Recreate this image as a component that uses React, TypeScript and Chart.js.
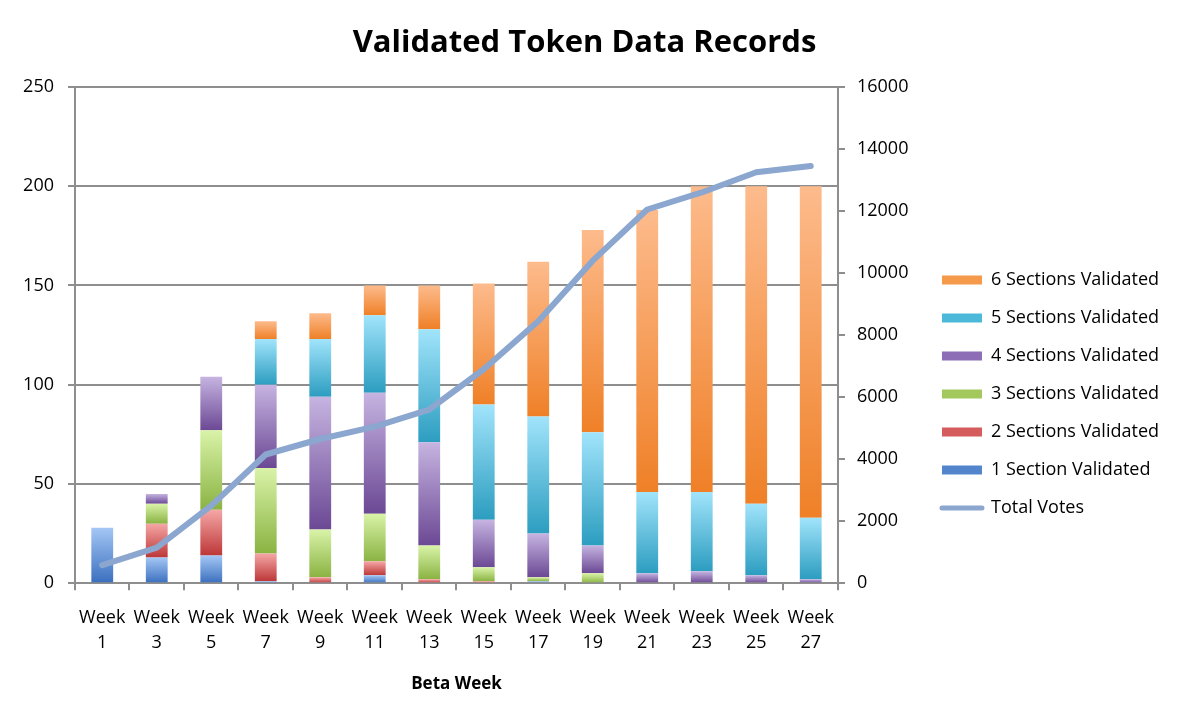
import React, { useEffect, useRef } from 'react';
import { Chart, registerables } from 'chart.js';

Chart.register(...registerables);

const WEEKS = ['1', '3', '5', '7', '9', '11', '13', '15', '17', '19', '21', '23', '25', '27'];

const ONE_SECTION = [28, 13, 14, 1, 0, 4, 0, 0, 1, 0, 0, 0, 0, 0];
const TWO_SECTIONS = [0, 17, 23, 14, 3, 7, 2, 1, 0, 0, 0, 0, 0, 0];
const THREE_SECTIONS = [0, 10, 40, 43, 24, 24, 17, 7, 2, 5, 0, 0, 0, 0];
const FOUR_SECTIONS = [0, 5, 27, 42, 67, 61, 52, 24, 22, 14, 5, 6, 4, 2];
const FIVE_SECTIONS = [0, 0, 0, 23, 29, 39, 57, 58, 59, 57, 41, 40, 36, 31];
const SIX_SECTIONS = [0, 0, 0, 9, 13, 15, 22, 61, 78, 102, 142, 154, 160, 167];

const TOTAL_VOTES = [580, 1150, 2500, 4150, 4650, 5050, 5600, 6900, 8450, 10400, 12050, 12600, 13250, 13450];

const SERIES_LABELS = [
  '1 Section Validated',
  '2 Sections Validated',
  '3 Sections Validated',
  '4 Sections Validated',
  '5 Sections Validated',
  '6 Sections Validated',
];
const SERIES = [ONE_SECTION, TWO_SECTIONS, THREE_SECTIONS, FOUR_SECTIONS, FIVE_SECTIONS, SIX_SECTIONS];

const LEFT_TICKS_MAX = 250;
const LEFT_STEP = 50;
const RIGHT_TICKS_MAX = 16000;
const RIGHT_STEP = 2000;

const PALETTE = [
  { top: '#a4c7f5', bottom: '#3a6fbe', solid: '#5285cc' },
  { top: '#f5a7a6', bottom: '#bd3738', solid: '#d45c5c' },
  { top: '#d9f3a8', bottom: '#8ab342', solid: '#a2c85e' },
  { top: '#c6b4e1', bottom: '#6b4894', solid: '#8d6db5' },
  { top: '#a1e4fb', bottom: '#2c9dc0', solid: '#4db9da' },
  { top: '#fdbb8c', bottom: '#ef8027', solid: '#f5994b' },
];
const LINE_COLOR = '#8ba6cf';
const GRID = '#8e8e8e';
const FONT = "'Open Sans', sans-serif";

function barFill(i: number) {
  return (ctx: any) => {
    const chart = ctx.chart;
    const p = PALETTE[i];
    const y = chart.scales && chart.scales.y;
    if (ctx.type !== 'data' || !y || !chart.chartArea) return p.solid;
    const idx = ctx.dataIndex;
    let base = 0;
    for (let k = 0; k < i; k++) base += SERIES[k][idx];
    const top = base + SERIES[i][idx];
    const y0 = y.getPixelForValue(top);
    const y1 = y.getPixelForValue(base);
    if (!(y1 - y0 > 0.5) || !isFinite(y0) || !isFinite(y1)) return p.solid;
    const g = chart.ctx.createLinearGradient(0, y0, 0, y1);
    g.addColorStop(0, p.top);
    g.addColorStop(1, p.bottom);
    return g;
  };
}

export default function App() {
  const ref = useRef<HTMLCanvasElement>(null);
  useEffect(() => {
    if (!ref.current) return;
    Chart.defaults.color = '#000';
    Chart.defaults.font.family = FONT;

    const barSets = SERIES.map((values, i) => ({
      type: 'bar' as const,
      label: SERIES_LABELS[i],
      data: values,
      backgroundColor: barFill(i),
      borderWidth: 0,
      yAxisID: 'y',
      order: 1,
      categoryPercentage: 1,
      barPercentage: 0.4,
    }));

    const chart = new Chart(ref.current, {
      type: 'bar',
      data: {
        labels: WEEKS.map((w) => ['Week', w]),
        datasets: [
          ...barSets,
          {
            type: 'line' as const,
            label: 'Total Votes',
            data: TOTAL_VOTES,
            borderColor: LINE_COLOR,
            backgroundColor: LINE_COLOR,
            borderWidth: 6,
            pointRadius: 0,
            tension: 0,
            borderCapStyle: 'round',
            borderJoinStyle: 'round',
            yAxisID: 'y1',
            order: 0,
          } as any,
        ],
      },
      options: {
        responsive: false,
        animation: false,
        layout: { padding: { left: 0, right: 10, top: 0, bottom: 26 } },
        plugins: {
          title: {
            display: true,
            text: 'Validated Token Data Records',
            color: '#000',
            font: { family: FONT, size: 31, weight: 'bold', lineHeight: 1.2 },
            padding: { top: 25, bottom: 24.8 },
          },
          legend: {
            position: 'right',
            align: 'start',
            maxWidth: 260,
            title: {
              display: true,
              text: ' ',
              font: { size: 10, lineHeight: 1 },
              padding: { top: 241, bottom: 0 },
            },
            labels: {
              usePointStyle: true,
              pointStyleWidth: 40,
              boxWidth: 40,
              boxHeight: 9,
              padding: 20,
              color: '#000',
              font: { family: FONT, size: 18 },
              generateLabels: () => {
                const items: any[] = [];
                for (let i = 5; i >= 0; i--) {
                  items.push({
                    text: SERIES_LABELS[i],
                    fillStyle: PALETTE[i].solid,
                    strokeStyle: PALETTE[i].solid,
                    lineWidth: 0,
                    pointStyle: 'rect',
                    datasetIndex: i,
                    hidden: false,
                    fontColor: '#000',
                  });
                }
                items.push({
                  text: 'Total Votes',
                  fillStyle: LINE_COLOR,
                  strokeStyle: LINE_COLOR,
                  lineWidth: 5,
                  lineCap: 'round',
                  pointStyle: 'line',
                  datasetIndex: 6,
                  hidden: false,
                  fontColor: '#000',
                });
                return items;
              },
            },
          },
          tooltip: { enabled: false },
        },
        scales: {
          x: {
            stacked: true,
            offset: true,
            grid: {
              display: true,
              offset: true,
              drawOnChartArea: false,
              drawTicks: true,
              tickLength: 7,
              color: GRID,
              lineWidth: 2,
            },
            border: { display: true, color: GRID, width: 2 },
            ticks: {
              color: '#000',
              padding: 15,
              maxRotation: 0,
              autoSkip: false,
              font: { family: FONT, size: 18, lineHeight: 1.4 },
            },
            title: {
              display: true,
              text: 'Beta Week',
              color: '#000',
              font: { family: FONT, size: 17, weight: 'bold', lineHeight: 1.2 },
              padding: { top: 3, bottom: 0 },
            },
          },
          y: {
            stacked: true,
            position: 'left',
            min: 0,
            max: LEFT_TICKS_MAX,
            grid: { color: GRID, lineWidth: 2, drawTicks: true, tickLength: 7 },
            border: { display: true, color: GRID, width: 2 },
            ticks: {
              stepSize: LEFT_STEP,
              color: '#000',
              padding: 14,
              font: { family: FONT, size: 18 },
            },
            afterFit: (scale: any) => {
              scale.width = 75;
            },
          },
          y1: {
            position: 'right',
            min: 0,
            max: RIGHT_TICKS_MAX,
            grid: { drawOnChartArea: false, color: GRID, lineWidth: 2, drawTicks: true, tickLength: 7 },
            border: { display: true, color: GRID, width: 2 },
            ticks: {
              stepSize: RIGHT_STEP,
              color: '#000',
              padding: 12,
              font: { family: FONT, size: 18 },
              callback: (value: any) => String(value),
            },
            afterFit: (scale: any) => {
              scale.width = 84;
            },
          },
        },
      } as any,
    });
    return () => chart.destroy();
  }, []);

  return (
    <div style={{ position: 'fixed', left: 0, top: 0, width: 1179, height: 720, background: '#fff' }}>
      <canvas ref={ref} width={1179} height={720} style={{ display: 'block' }} />
    </div>
  );
}
